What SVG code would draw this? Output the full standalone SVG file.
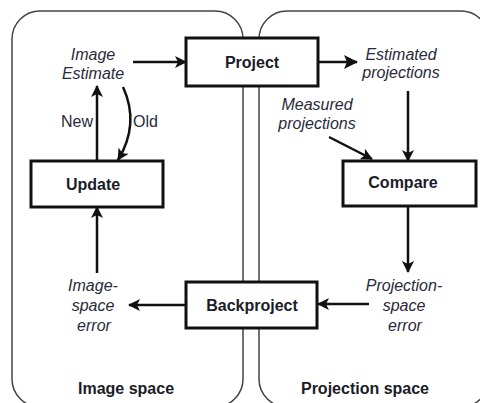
<svg xmlns="http://www.w3.org/2000/svg" width="480" height="403" viewBox="0 0 480 403">
<defs>
<style>
.panel{fill:none;stroke:#444;stroke-width:1.5}
.box{fill:#fff;stroke:#111;stroke-width:3}
.bt{font-family:"Liberation Sans",Arial,sans-serif;font-weight:bold;font-size:16px;fill:#1c1c28;text-anchor:middle}
.it{font-family:"Liberation Sans",Arial,sans-serif;font-style:italic;font-size:16px;fill:#2a2a3a;text-anchor:middle}
.rt{font-family:"Liberation Sans",Arial,sans-serif;font-size:16px;fill:#2a2a3a}
.c{fill:none;stroke:#111;stroke-width:2.5}
</style>
<marker id="ah" markerUnits="userSpaceOnUse" markerWidth="12" markerHeight="12" viewBox="0 0 12 12" refX="11" refY="6" orient="auto">
<path d="M0,0 L12,6 L0,12 L3,6 Z" fill="#111"/>
</marker>
<marker id="ahb" markerUnits="userSpaceOnUse" markerWidth="14" markerHeight="14" viewBox="0 0 14 14" refX="13" refY="7" orient="auto">
<path d="M0,0 L14,7 L0,14 L3,7 Z" fill="#111"/>
</marker>
</defs>
<rect width="480" height="403" fill="#fff"/>
<g id="image-space">
<rect class="panel" x="12" y="11" width="231" height="396" rx="28" ry="28"/>
<text class="bt" x="126" y="394">Image space</text>
</g>
<g id="projection-space">
<rect class="panel" x="259" y="11" width="230" height="396" rx="28" ry="28"/>
<text class="bt" x="365" y="394">Projection space</text>
</g>
<g id="connectors">
<line class="c" x1="133" y1="62" x2="186" y2="62" marker-end="url(#ah)"/>
<line class="c" x1="318" y1="62" x2="357" y2="62" stroke-width="5" marker-end="url(#ahb)"/>
<line class="c" x1="408" y1="91" x2="408" y2="161" marker-end="url(#ah)"/>
<line class="c" x1="329" y1="137" x2="372" y2="159" marker-end="url(#ah)"/>
<line class="c" x1="408" y1="206" x2="408" y2="272" marker-end="url(#ah)"/>
<line class="c" x1="369" y1="304" x2="318" y2="304" marker-end="url(#ah)"/>
<line class="c" x1="186" y1="305" x2="129" y2="305" marker-end="url(#ah)"/>
<line class="c" x1="97" y1="273" x2="97" y2="207" marker-end="url(#ah)"/>
<line class="c" x1="97" y1="161" x2="97" y2="86" marker-end="url(#ah)"/>
<path class="c" d="M123,87 Q140,124 118,160" marker-end="url(#ah)"/>
<text class="rt" x="93" y="127" text-anchor="end">New</text>
<text class="rt" x="133" y="127">Old</text>
</g>
<g id="project">
<rect class="box" x="186" y="38" width="132" height="48"/>
<text class="bt" x="252" y="67.5">Project</text>
</g>
<g id="update">
<rect class="box" x="31" y="161" width="132" height="46"/>
<text class="bt" x="93" y="189.5">Update</text>
</g>
<g id="compare">
<rect class="box" x="343" y="161" width="133" height="45"/>
<text class="bt" x="403" y="188">Compare</text>
</g>
<g id="backproject">
<rect class="box" x="186" y="282" width="131" height="46"/>
<text class="bt" x="252" y="310.5">Backproject</text>
</g>
<g id="image-estimate">
<text class="it" x="93" y="60">Image</text>
<text class="it" x="93" y="79">Estimate</text>
</g>
<g id="estimated-projections">
<text class="it" x="401" y="60">Estimated</text>
<text class="it" x="401" y="78">projections</text>
</g>
<g id="measured-projections">
<text class="it" x="317" y="110">Measured</text>
<text class="it" x="317" y="129">projections</text>
</g>
<g id="image-space-error">
<text class="it" x="93" y="291">Image-</text>
<text class="it" x="93" y="311">space</text>
<text class="it" x="94" y="331">error</text>
</g>
<g id="projection-space-error">
<text class="it" x="404" y="291">Projection-</text>
<text class="it" x="404" y="311">space</text>
<text class="it" x="405" y="331">error</text>
</g>
</svg>
